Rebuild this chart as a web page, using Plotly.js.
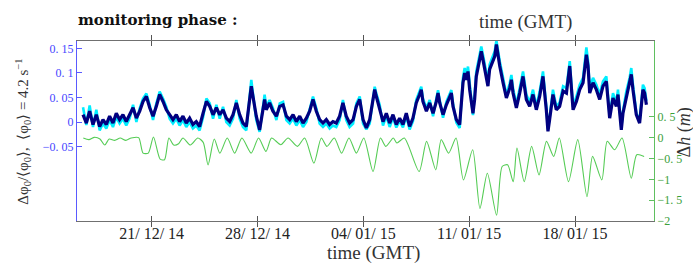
<!DOCTYPE html>
<html>
<head>
<meta charset="utf-8">
<script src="https://cdn.plot.ly/plotly-3.0.1.min.js"></script>
<style>html,body{margin:0;padding:0;background:#fff;}#chart{width:693px;height:263px;}</style>
</head>
<body>
<div id="chart"></div>
<script>
// time of each sample: days since 2014-12-16 00:00 GMT
var tPhi = [0.46,0.68,0.90,1.12,1.34,1.56,1.78,2.00,2.22,2.44,2.66,2.88,3.10,3.32,3.54,
3.77,3.99,4.21,4.43,4.65,4.87,5.09,5.31,5.53,5.75,5.97,6.19,6.41,6.63,6.85,7.07,7.29,7.51,7.73,7.95,8.17,8.40,8.62,8.84,9.06,9.28,9.50,9.72,9.94,10.16,10.38,10.60,10.82,11.04,11.26,
11.48,11.59,11.70,11.92,12.14,12.36,12.47,12.58,
12.80,13.02,13.25,13.47,13.69,13.91,14.13,14.35,14.57,14.79,15.01,15.23,15.45,15.67,15.89,16.11,16.33,16.55,16.77,16.99,17.21,17.43,17.65,17.87,18.09,18.32,18.54,18.76,18.98,19.20,19.42,19.64,
19.75,19.86,20.08,
20.30,20.52,20.74,20.96,21.18,21.40,21.62,21.84,22.06,22.28,22.50,22.72,22.83,22.94,23.17,23.39,23.61,23.83,23.94,24.05,24.27,24.49,24.71,24.82,24.93,25.15,25.37,
25.59,25.70,25.81,25.92,26.03,26.25,26.36,26.47,26.69,26.80,26.91,27.13,27.24,27.35,27.58,27.69,27.80,27.91,28.02,28.24,28.46,28.68,28.79,28.90,29.12,29.34,29.56,29.78,30.00,30.22,30.44,30.66,30.88,31.10,31.21,31.32,31.54,31.76,31.98,32.21,32.43,32.65,32.87,33.09,33.31,33.53,33.75,33.86,33.97,34.19,34.41,34.63,34.85,35.07,35.29,35.51,35.73,35.84,35.95,36.06,36.17,36.39,36.61,36.72,36.83,37.05,37.27,37.49,37.60,37.72];

// relative rate variation, dark series
var phiNavy = [0.015,-0.002,0.022,-0.005,0.015,-0.009,0.005,-0.005,0.012,-0.002,0.018,0.005,0.015,0.001,0.015,
0.029,0.008,0.022,0.042,0.052,0.029,0.012,0.032,0.056,0.042,0.025,0.015,0.005,0.015,0.001,0.012,-0.002,0.008,-0.005,0.001,-0.009,0.018,0.042,0.032,0.015,0.029,0.015,0.025,0.008,0.001,0.015,0.039,0.015,-0.002,-0.009,
0.046,0.073,0.052,0.012,-0.016,0.032,0.046,0.025,
0.039,0.022,0.012,0.032,0.035,0.012,0.005,0.015,0.001,0.012,-0.002,0.008,0.022,0.046,0.022,0.005,-0.002,0.005,-0.005,0.001,-0.002,0.012,0.039,0.012,-0.002,0.005,0.032,0.046,0.005,-0.012,0.005,0.046,
0.066,0.052,0.029,
0.001,0.018,-0.002,0.015,-0.005,0.008,-0.005,0.018,-0.009,0.008,0.039,0.056,0.066,0.042,0.022,0.039,0.018,0.042,0.059,0.039,0.015,0.035,0.049,0.059,0.032,0.005,-0.005,
0.080,0.100,0.086,0.103,0.066,0.018,0.046,0.093,0.127,0.144,0.127,0.086,0.073,0.107,0.127,0.134,0.158,0.134,0.114,0.080,0.049,0.069,0.086,0.059,0.029,0.059,0.093,0.046,0.032,0.056,0.025,0.052,0.093,0.025,-0.019,0.005,0.056,0.025,0.032,0.063,0.059,0.114,0.025,0.042,0.066,0.080,0.137,0.114,0.059,0.080,0.066,0.046,0.073,0.083,0.008,0.049,0.032,0.056,0.012,-0.016,0.018,0.052,0.080,0.097,0.066,0.015,-0.002,0.066,0.059,0.035];

// relative rate variation, light series
var phiCyan = [0.030,-0.006,0.034,-0.010,0.025,-0.017,-0.003,-0.013,0.004,-0.010,0.010,-0.003,0.007,-0.007,0.007,
0.035,0.000,0.028,0.048,0.058,0.035,0.004,0.038,0.062,0.048,0.031,0.007,-0.003,0.007,-0.007,0.004,-0.010,0.000,-0.013,-0.007,-0.017,0.010,0.048,0.038,0.007,0.035,0.007,0.031,0.000,-0.007,0.007,0.045,0.007,-0.010,-0.017,
0.052,0.086,0.058,0.004,-0.020,0.038,0.056,0.031,
0.045,0.028,0.004,0.038,0.041,0.004,-0.003,0.007,-0.007,0.004,-0.010,0.000,0.028,0.052,0.028,-0.003,-0.010,-0.003,-0.013,-0.007,-0.010,0.004,0.045,0.004,-0.010,-0.003,0.038,0.052,-0.003,-0.015,-0.003,0.052,
0.072,0.058,0.035,
-0.007,0.012,-0.010,0.009,-0.011,0.002,-0.011,0.012,-0.015,0.002,0.045,0.062,0.072,0.048,0.028,0.045,0.012,0.048,0.065,0.045,0.009,0.041,0.055,0.065,0.038,-0.001,-0.012,
0.090,0.110,0.096,0.113,0.076,0.014,0.056,0.103,0.137,0.154,0.137,0.096,0.083,0.117,0.137,0.144,0.166,0.144,0.124,0.090,0.055,0.079,0.096,0.069,0.035,0.069,0.103,0.056,0.040,0.066,0.031,0.062,0.103,0.031,-0.015,0.009,0.066,0.031,0.040,0.073,0.069,0.124,0.031,0.052,0.076,0.090,0.152,0.124,0.069,0.090,0.076,0.056,0.083,0.093,0.012,0.059,0.040,0.066,0.016,-0.012,0.022,0.062,0.090,0.110,0.076,0.019,0.002,0.076,0.069,0.043];

// water level variation Δh (m)
var tH = [0.48,0.85,1.21,1.58,1.90,2.19,2.56,2.92,3.29,3.65,4.14,4.43,4.78,5.12,5.56,5.85,6.14,6.46,6.78,7.07,7.56,8.05,8.41,8.73,9.14,9.51,10.00,10.49,10.97,11.58,12.07,12.56,12.93,13.54,14.02,14.64,15.12,15.73,16.22,16.59,17.08,17.56,18.05,18.54,19.03,19.64,20.13,20.49,20.98,21.22,21.71,22.69,23.18,23.79,24.15,24.64,25.13,25.62,26.23,26.71,27.20,27.81,28.18,28.54,28.91,29.16,29.64,30.13,30.62,31.11,31.59,31.96,32.57,33.18,33.79,34.16,34.77,35.13,35.62,36.11,36.72,37.08,37.57];
var dh = [-0.008,-0.048,0.008,-0.032,-0.177,-0.032,-0.064,-0.008,-0.064,-0.008,0.000,-0.370,-0.370,0.016,-0.515,-0.531,-0.008,-0.177,-0.145,-0.008,-0.177,-0.008,-0.113,-0.652,-0.032,-0.370,-0.008,-0.370,-0.008,-0.370,-0.008,-0.330,-0.008,-0.169,-0.008,-0.209,-0.008,-0.612,-0.008,-0.209,-0.008,-0.370,-0.008,-0.370,-0.008,-0.813,-0.008,-0.209,-0.008,-0.129,-0.008,-0.813,-0.088,-0.773,-0.048,-0.370,-0.008,-1.014,-0.290,-1.699,-0.853,-1.860,-0.692,-0.652,-1.055,-0.249,-1.055,-0.209,-0.894,-0.088,-0.450,-0.008,-1.055,-0.048,-1.417,-0.450,-1.014,-0.088,-0.290,-0.008,-0.974,-0.410,-0.450];

var tickDates = ['2014-12-21','2014-12-28','2015-01-04','2015-01-11','2015-01-18'];
var tickDateText = ['21/ 12/ 14','28/ 12/ 14','04/ 01/ 15','11/ 01/ 15','18/ 01/ 15'];
var phiTicks = [-0.05,0,0.05,0.1,0.15];
var phiTickText = ['−0. 05','0','0. 05','0. 1','0. 15'];
var hTicks = [-2,-1.5,-1,-0.5,0,0.5];
var hTickText = ['−2','−1. 5','−1','−0. 5','0','0. 5'];

var T0 = Date.UTC(2014,11,16);
function toDate(d){ return new Date(T0 + d*86400000).toISOString().slice(0,19).replace('T',' '); }
var xPhi = tPhi.map(toDate);
var xH = tH.map(toDate);

var serif = 'Liberation Serif, Times New Roman, serif';
var blue = '#5a5aff', green = '#5fbf5f';

var data = [
  {x:xPhi, y:phiCyan, type:'scatter', mode:'lines', line:{color:'#00eeff', width:2.6}, yaxis:'y', hoverinfo:'skip'},
  {x:xPhi, y:phiNavy, type:'scatter', mode:'lines', line:{color:'#000080', width:3.2}, yaxis:'y', hoverinfo:'skip'},
  {x:xH, y:dh, type:'scatter', mode:'lines', line:{color:'#55cc55', width:1.1, shape:'spline', smoothing:0.7}, yaxis:'y2', hoverinfo:'skip'}
];

var layout = {
  width:693, height:263,
  margin:{l:77, r:39, t:41, b:42},
  paper_bgcolor:'#fff', plot_bgcolor:'#fff',
  showlegend:false,
  xaxis:{type:'date', range:['2014-12-16 01:30','2015-01-23 05:20'],
    tickmode:'array', tickvals:tickDates, ticktext:tickDateText,
    ticks:'inside', ticklen:5, tickcolor:'#555', tickwidth:1,
    showline:true, linecolor:'#707070', linewidth:1, mirror:'allticks',
    showgrid:false, zeroline:false, ticklabelstandoff:-2,
    tickfont:{family:serif, size:16, color:'#222'}},
  yaxis:{range:[-0.2014,0.165], tickmode:'array', tickvals:phiTicks, ticktext:phiTickText,
    ticks:'inside', ticklen:5, tickcolor:blue, showline:true, linecolor:blue, linewidth:1,
    showgrid:false, zeroline:false,
    tickfont:{family:serif, size:12, color:'#4646ff'}},
  yaxis2:{range:[-2,2.32], overlaying:'y', side:'right', tickmode:'array', tickvals:hTicks, ticktext:hTickText,
    ticks:'inside', ticklen:5, tickcolor:green, showline:true, linecolor:green, linewidth:1,
    showgrid:false, zeroline:false,
    tickfont:{family:serif, size:12, color:'#3aa03a'}},
  annotations:[
    {text:'<b>monitoring phase :</b>', xref:'paper', yref:'paper', x:-0.002, y:1.115, xanchor:'left', yanchor:'middle', showarrow:false, font:{family:'DejaVu Serif, serif', size:15, color:'#111'}},
    {text:'time (GMT)', xref:'paper', yref:'paper', x:0.778, y:1.108, xanchor:'center', yanchor:'middle', showarrow:false, font:{family:serif, size:19, color:'#333'}},
    {text:'time (GMT)', xref:'paper', yref:'paper', x:0.513, y:-0.18, xanchor:'center', yanchor:'middle', showarrow:false, font:{family:serif, size:19, color:'#333'}},
    {text:'Δφ<sub>0</sub>/⟨φ<sub>0</sub>⟩,  ⟨φ<sub>0</sub>⟩ = 4.2 s<sup>−1</sup>', xref:'paper', yref:'paper', x:-0.094, y:0.495, xanchor:'center', yanchor:'middle', textangle:-90, showarrow:false, font:{family:serif, size:15, color:'#333'}},
    {text:'Δ<i>h</i> (<i>m</i>)', xref:'paper', yref:'paper', x:1.053, y:0.49, xanchor:'center', yanchor:'middle', textangle:-90, showarrow:false, font:{family:serif, size:18, color:'#333'}}
  ]
};

Plotly.newPlot('chart', data, layout, {staticPlot:true, displayModeBar:false});
</script>
</body>
</html>
